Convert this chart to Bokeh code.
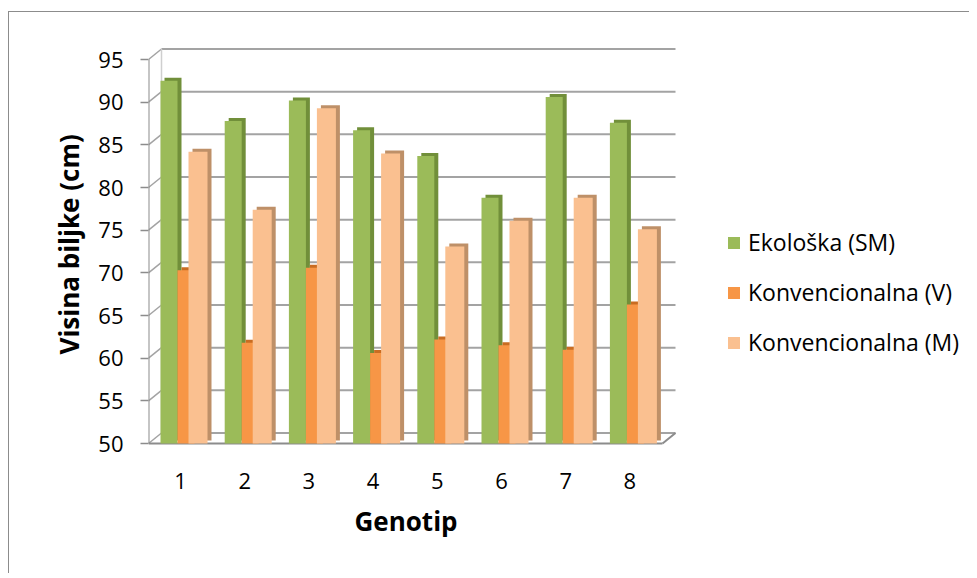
from bokeh.plotting import figure
from bokeh.models import FixedTicker, Legend, LegendItem, Title
from bokeh.embed import file_html
from bokeh.resources import INLINE

# ---- data ----
genotip = ["1", "2", "3", "4", "5", "6", "7", "8"]
ekoloska_sm = [92.5, 87.8, 90.2, 86.7, 83.7, 78.8, 90.6, 87.6]
konv_v = [70.3, 61.8, 70.6, 60.6, 62.2, 61.5, 61.0, 66.3]
konv_m = [84.2, 77.4, 89.3, 84.0, 73.1, 76.1, 78.8, 75.1]
series_names = ["Ekološka (SM)", "Konvencionalna (V)", "Konvencionalna (M)"]
y_ticks = [50, 55, 60, 65, 70, 75, 80, 85, 90, 95]
x_title = "Genotip"
y_title = "Visina biljke (cm)"

FONT = "Open Sans"
W, H = 961, 562
PX_X = 64.2      # px per category unit
PX_Y = 8.533     # px per value unit
x0 = 1 - 32 / PX_X
x1 = x0 + (W - 139) / PX_X
y0 = 50 - 3 / PX_Y
y1 = 50 + 431 / PX_Y

p = figure(width=W, height=H, output_backend="svg", toolbar_location=None,
           x_range=(x0, x1), y_range=(y0, y1),
           min_border_left=139, min_border_right=0, min_border_top=0,
           min_border_bottom=128)
p.styles = {"border-top": "1px solid #8c8c8c", "border-left": "1px solid #8c8c8c",
            "margin-top": "11px", "margin-left": "8px"}
p.outline_line_color = None
p.xgrid.visible = False
p.ygrid.visible = False
p.background_fill_color = "white"
p.border_fill_color = "white"

# 3D frame geometry (depth offsets)
DX = 13 / PX_X
DY = 10.5 / PX_Y
xs = list(range(1, len(genotip) + 1))
x_front_right = 1 + (662 - 180) / PX_X
GRID = "#a3a3a3"

# back-wall gridlines + connectors
p.segment(x0=[x0 + DX] * len(y_ticks), y0=[v + DY for v in y_ticks],
          x1=[x_front_right + DX] * len(y_ticks), y1=[v + DY for v in y_ticks],
          line_color=GRID, line_width=2)
p.segment(x0=[x0] * len(y_ticks), y0=y_ticks,
          x1=[x0 + DX] * len(y_ticks), y1=[v + DY for v in y_ticks],
          line_color=GRID, line_width=1.5)
p.segment(x0=[x0 + DX], y0=[y_ticks[0] + DY], x1=[x0 + DX], y1=[y_ticks[-1] + DY],
          line_color="#cfcfcf", line_width=1.5)
# front axis line and floor
p.segment(x0=[x0], y0=[y_ticks[0]], x1=[x0], y1=[y_ticks[-1]],
          line_color="#8c8c8c", line_width=2)
p.segment(x0=[x0, x_front_right], y0=[y_ticks[0], y_ticks[0]],
          x1=[x_front_right, x_front_right + DX], y1=[y_ticks[0], y_ticks[0] + DY],
          line_color="#8c8c8c", line_width=2)

# bars
specs = [
    (ekoloska_sm, -11.5, 17, "#9bbb59", "#718f3a"),
    (konv_v, 5.5, 17, "#f79646", "#c96c22"),
    (konv_m, 17.5, 19, "#fac090", "#be9068"),
]
SDX = 4 / PX_X
SDY = 3 / PX_Y
front_renderers = []
for vals, off, w, col, dark in specs:
    cx = [x + off / PX_X for x in xs]
    p.vbar(x=[c + SDX for c in cx], width=w / PX_X,
           top=[v + SDY for v in vals], bottom=50 + SDY,
           fill_color=dark, line_color=None)
    r = p.vbar(x=cx, width=w / PX_X, top=vals, bottom=50,
               fill_color=col, line_color=None)
    front_renderers.append(r)

# axes
ya = p.yaxis[0]
ya.ticker = FixedTicker(ticks=y_ticks)
ya.axis_line_color = None
ya.major_tick_line_color = "#8c8c8c"
ya.major_tick_line_width = 1.5
ya.major_tick_out = 8
ya.major_tick_in = 0
ya.minor_tick_line_color = None
ya.major_label_text_font = FONT
ya.major_label_text_font_size = "22px"
ya.major_label_text_color = "#000000"
ya.major_label_standoff = 17

xa = p.xaxis[0]
xa.ticker = FixedTicker(ticks=xs)
xa.major_label_overrides = {x: g for x, g in zip(xs, genotip)}
xa.axis_line_color = None
xa.major_tick_line_color = None
xa.minor_tick_line_color = None
xa.major_label_text_font = FONT
xa.major_label_text_font_size = "22px"
xa.major_label_text_color = "#000000"
xa.major_label_standoff = 20

# axis titles, placed like the original (centred on the category span / plot wall)
p.add_layout(Title(text=x_title, align="left", offset=206, standoff=19,
                   text_line_height=1.3, text_font=FONT, text_font_style="bold",
                   text_font_size="26px", text_color="#000000"), "below")
p.add_layout(Title(text=y_title, align="left", offset=92, standoff=18,
                   text_line_height=1.4, text_font=FONT, text_font_style="bold",
                   text_font_size="26px", text_color="#000000"), "left")

legend = Legend(items=[LegendItem(label=n, renderers=[r])
                       for n, r in zip(series_names, front_renderers)],
                location=(578, 88), orientation="vertical")
legend.margin = 0
legend.padding = 0
legend.border_line_color = None
legend.background_fill_alpha = 0
legend.glyph_width = 15
legend.glyph_height = 15
legend.label_height = 20
legend.spacing = 18
legend.label_standoff = 7
legend.label_text_font = FONT
legend.label_text_font_size = "23px"
legend.label_text_color = "#000000"
p.add_layout(legend)

open("out.html", "w").write(file_html(p, INLINE))
